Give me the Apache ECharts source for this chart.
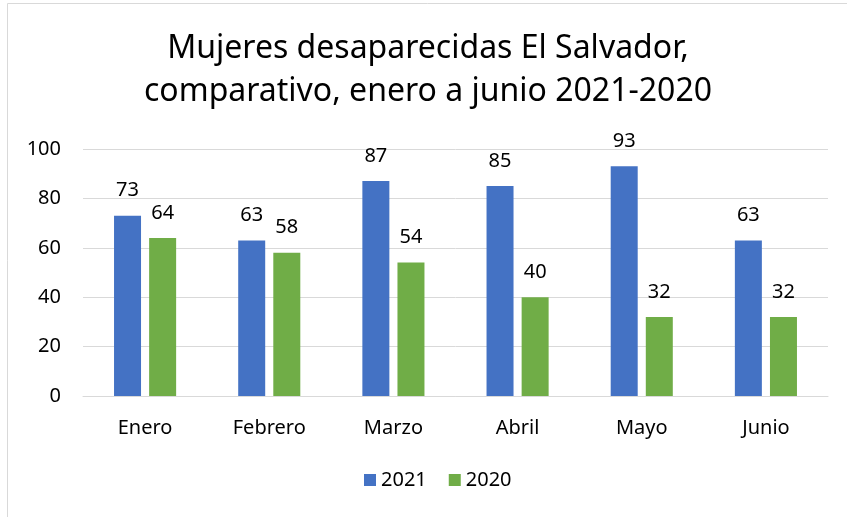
<!DOCTYPE html>
<html>
<head>
<meta charset="utf-8">
<script src="https://cdn.jsdelivr.net/npm/echarts@6/dist/echarts.min.js"></script>
<style>
  html, body { margin: 0; padding: 0; background: #fff; }
  #chart { width: 847px; height: 517px; }
</style>
</head>
<body>
<div id="chart"></div>
<script>
const months = ['Enero', 'Febrero', 'Marzo', 'Abril', 'Mayo', 'Junio'];
const values2021 = [73, 63, 87, 85, 93, 63];
const values2020 = [64, 58, 54, 40, 32, 32];
const yTicks = { min: 0, max: 100, interval: 20 };

const font = 'Noto Sans';
const chart = echarts.init(document.getElementById('chart'));

chart.setOption({
  animation: false,
  textStyle: { fontFamily: font },
  graphic: [{
    type: 'rect',
    shape: { x: 7.5, y: 3.5, width: 900, height: 600 },
    style: { fill: 'none', stroke: '#d9d9d9', lineWidth: 1 },
    silent: true
  }],
  title: {
    text: 'Mujeres desaparecidas El Salvador,\ncomparativo, enero a junio 2021-2020',
    left: 423,
    textAlign: 'center',
    top: 22,
    textStyle: { fontSize: 32, fontWeight: 'normal', color: '#000', lineHeight: 43, fontFamily: font }
  },
  legend: {
    data: ['2021', '2020'],
    bottom: 22,
    left: 359,
    itemWidth: 12,
    itemHeight: 12,
    itemGap: 22,
    icon: 'rect',
    textStyle: { fontSize: 20, color: '#000', fontFamily: font }
  },
  grid: { left: 83, right: 19, top: 149, bottom: 121, containLabel: false },
  xAxis: {
    type: 'category',
    data: months,
    axisLine: { lineStyle: { color: '#d9d9d9' } },
    axisTick: { show: false },
    axisLabel: { fontSize: 20, color: '#000', margin: 22, fontFamily: font }
  },
  yAxis: {
    type: 'value',
    min: yTicks.min,
    max: yTicks.max,
    interval: yTicks.interval,
    axisLine: { show: false },
    axisTick: { show: false },
    splitLine: { lineStyle: { color: '#d9d9d9' } },
    axisLabel: { fontSize: 20, color: '#000', margin: 22, fontFamily: font }
  },
  series: [
    {
      name: '2021',
      type: 'bar',
      data: values2021,
      barWidth: 27,
      barGap: '30%',
      itemStyle: { color: '#4472C4' },
      label: { show: true, position: 'top', distance: 15, fontSize: 20, color: '#000', fontFamily: font }
    },
    {
      name: '2020',
      type: 'bar',
      data: values2020,
      barWidth: 27,
      itemStyle: { color: '#70AD47' },
      label: { show: true, position: 'top', distance: 15, fontSize: 20, color: '#000', fontFamily: font }
    }
  ]
});
</script>
</body>
</html>
